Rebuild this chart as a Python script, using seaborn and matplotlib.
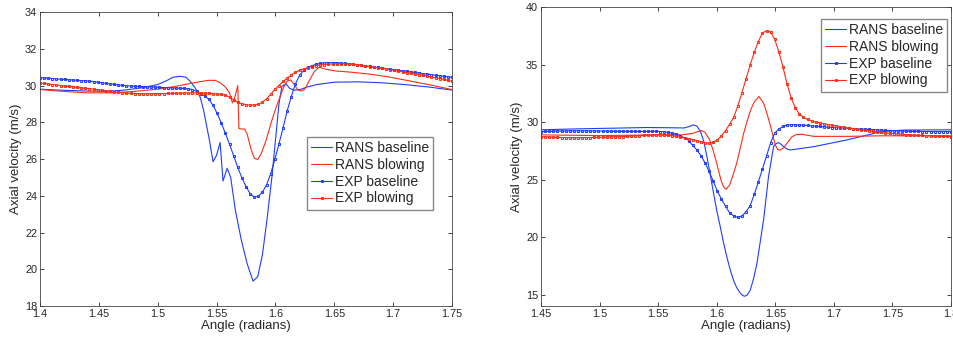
import numpy as np
import matplotlib
matplotlib.use('Agg')
import matplotlib.pyplot as plt
import seaborn as sns

# ---- left panel data ----
# EXP points, one every 0.0035 rad from 1.40 to 1.75
exp_left_angle = np.round(1.4 + 0.0035 * np.arange(101), 4)
exp_left_base = [30.43, 30.41, 30.40, 30.38, 30.36, 30.34, 30.33, 30.31, 30.30, 30.28,
                 30.27, 30.25, 30.24, 30.21, 30.18, 30.15, 30.12, 30.09, 30.06, 30.03,
                 30.01, 29.99, 29.97, 29.96, 29.95, 29.94, 29.93, 29.92, 29.91, 29.90,
                 29.89, 29.88, 29.87, 29.86, 29.85, 29.84, 29.82, 29.78, 29.68, 29.56,
                 29.42, 29.25, 28.92, 28.48, 27.96, 27.40, 26.80, 26.18, 25.55, 24.98,
                 24.50, 24.12, 23.93, 23.97, 24.20, 24.60, 25.20, 25.98, 26.82, 27.70,
                 28.62, 29.40, 30.10, 30.55, 30.82, 30.98, 31.08, 31.15, 31.20, 31.23,
                 31.25, 31.25, 31.24, 31.22, 31.20, 31.18, 31.16, 31.13, 31.10, 31.07,
                 31.04, 31.01, 30.98, 30.95, 30.92, 30.89, 30.86, 30.83, 30.80, 30.77,
                 30.74, 30.71, 30.68, 30.65, 30.62, 30.59, 30.56, 30.53, 30.50, 30.47,
                 30.45]
exp_left_blow = [30.14, 30.11, 30.08, 30.05, 30.03, 30.00, 29.97, 29.95, 29.92, 29.90,
                 29.87, 29.85, 29.83, 29.80, 29.77, 29.74, 29.71, 29.68, 29.65, 29.62,
                 29.60, 29.58, 29.57, 29.56, 29.55, 29.55, 29.55, 29.55, 29.55, 29.56,
                 29.56, 29.57, 29.57, 29.58, 29.58, 29.59, 29.60, 29.60, 29.60, 29.59,
                 29.58, 29.57, 29.55, 29.54, 29.52, 29.47, 29.36, 29.22, 29.08, 29.00,
                 28.96, 28.93, 28.93, 28.98, 29.10, 29.27, 29.52, 29.80, 30.00, 30.22,
                 30.40, 30.58, 30.72, 30.83, 30.90, 30.97, 31.03, 31.08, 31.12, 31.14,
                 31.16, 31.17, 31.18, 31.18, 31.18, 31.17, 31.15, 31.12, 31.09, 31.05,
                 31.02, 30.99, 30.96, 30.93, 30.90, 30.86, 30.82, 30.78, 30.74, 30.70,
                 30.66, 30.62, 30.59, 30.55, 30.51, 30.47, 30.42, 30.38, 30.33, 30.28,
                 30.22]

rans_left_base_angle = [1.400, 1.420, 1.440, 1.455, 1.470, 1.485, 1.500, 1.508, 1.513, 1.519,
                        1.524, 1.528, 1.532, 1.536, 1.539, 1.544, 1.547, 1.550, 1.553, 1.5555,
                        1.559, 1.562, 1.566, 1.571, 1.576, 1.581, 1.585, 1.589, 1.593, 1.597,
                        1.600, 1.603, 1.6055, 1.609, 1.612, 1.616, 1.621, 1.627, 1.635, 1.650,
                        1.670, 1.690, 1.710, 1.730, 1.750]
rans_left_base = [29.80, 29.74, 29.70, 29.68, 29.74, 29.86, 30.05, 30.28, 30.45, 30.50,
                  30.45, 30.20, 29.85, 29.38, 28.65, 27.00, 25.85, 26.20, 26.90, 24.80,
                  25.50, 25.00, 23.20, 21.60, 20.30, 19.35, 19.60, 20.80, 22.80, 25.00,
                  27.00, 29.00, 29.95, 30.10, 29.85, 29.75, 29.78, 29.92, 30.05, 30.18,
                  30.20, 30.15, 30.05, 29.92, 29.75]

rans_left_blow_angle = [1.400, 1.420, 1.440, 1.460, 1.480, 1.500, 1.515, 1.525, 1.535, 1.543,
                        1.549, 1.553, 1.557, 1.561, 1.5635, 1.5655, 1.568, 1.569, 1.574, 1.576,
                        1.579, 1.582, 1.585, 1.588, 1.592, 1.596, 1.600, 1.604, 1.607, 1.610,
                        1.613, 1.616, 1.619, 1.622, 1.625, 1.629, 1.633, 1.637, 1.642, 1.650,
                        1.665, 1.680, 1.695, 1.710, 1.730, 1.750]
rans_left_blow = [29.78, 29.68, 29.60, 29.60, 29.68, 29.80, 29.95, 30.08, 30.20, 30.28,
                  30.28, 30.15, 29.95, 29.60, 29.05, 29.35, 30.00, 27.65, 27.62, 27.35,
                  26.60, 26.05, 25.97, 26.30, 27.00, 27.90, 28.70, 29.40, 29.90, 30.25,
                  30.30, 30.05, 29.75, 29.70, 29.80, 30.30, 30.75, 31.00, 30.90, 30.80,
                  30.72, 30.62, 30.48, 30.30, 30.05, 29.78]

# ---- right panel data ----
exp_right_angle = np.round(1.45 + 0.0035 * np.arange(101), 4)
exp_right_base = [29.17, 29.18, 29.19, 29.20, 29.21, 29.22, 29.22, 29.23, 29.23, 29.23,
                  29.23, 29.23, 29.22, 29.22, 29.22, 29.21, 29.21, 29.20, 29.20, 29.19,
                  29.19, 29.18, 29.18, 29.18, 29.18, 29.18, 29.18, 29.18, 29.18, 29.17,
                  29.15, 29.10, 29.03, 28.94, 28.82, 28.62, 28.38, 27.96, 27.58, 27.08,
                  26.45, 25.70, 24.85, 24.00, 23.30, 22.68, 22.10, 21.83, 21.71, 21.82,
                  22.20, 22.72, 23.70, 24.78, 25.90, 27.05, 28.20, 29.05, 29.38, 29.62,
                  29.74, 29.77, 29.76, 29.74, 29.72, 29.70, 29.67, 29.64, 29.61, 29.58,
                  29.55, 29.52, 29.50, 29.48, 29.46, 29.45, 29.43, 29.41, 29.39, 29.37,
                  29.35, 29.33, 29.31, 29.29, 29.27, 29.25, 29.24, 29.22, 29.21, 29.20,
                  29.19, 29.18, 29.18, 29.17, 29.17, 29.17, 29.17, 29.17, 29.17, 29.17,
                  29.17]
exp_right_blow = [28.73, 28.72, 28.70, 28.68, 28.66, 28.65, 28.64, 28.63, 28.63, 28.63,
                  28.63, 28.64, 28.65, 28.66, 28.67, 28.68, 28.69, 28.70, 28.71, 28.72,
                  28.73, 28.75, 28.77, 28.79, 28.81, 28.83, 28.85, 28.87, 28.88, 28.88,
                  28.87, 28.84, 28.80, 28.74, 28.68, 28.62, 28.55, 28.47, 28.38, 28.28,
                  28.20, 28.16, 28.22, 28.45, 28.80, 29.25, 29.80, 30.42, 31.40, 32.55,
                  33.75, 34.95, 36.05, 37.00, 37.75, 37.94, 37.80, 37.20, 36.10, 34.80,
                  33.30, 32.10, 31.25, 30.70, 30.40, 30.22, 30.10, 30.00, 29.92, 29.85,
                  29.78, 29.72, 29.66, 29.60, 29.54, 29.48, 29.43, 29.38, 29.33, 29.28,
                  29.23, 29.18, 29.13, 29.09, 29.05, 29.02, 28.99, 28.96, 28.93, 28.91,
                  28.89, 28.87, 28.85, 28.83, 28.81, 28.79, 28.77, 28.76, 28.75, 28.74,
                  28.73]

rans_right_base_angle = [1.450, 1.480, 1.510, 1.540, 1.560, 1.572, 1.577, 1.580, 1.583, 1.586,
                         1.589, 1.5916, 1.5945, 1.5973, 1.600, 1.603, 1.6058, 1.6086, 1.6115, 1.6143,
                         1.617, 1.620, 1.622, 1.6237, 1.626, 1.6286, 1.6315, 1.6343, 1.637, 1.640,
                         1.6442, 1.6485, 1.651, 1.653, 1.655, 1.657, 1.660, 1.663, 1.683, 1.711,
                         1.730, 1.740, 1.760, 1.800]
rans_right_base = [29.32, 29.40, 29.46, 29.52, 29.50, 29.48, 29.62, 29.75, 29.65, 29.20,
                   28.30, 27.00, 25.40, 23.80, 22.30, 20.90, 19.50, 18.28, 17.15, 16.25,
                   15.60, 15.14, 14.92, 14.85, 14.95, 15.38, 16.40, 17.70, 19.50, 21.50,
                   25.25, 27.86, 28.15, 28.20, 28.05, 27.86, 27.65, 27.57, 27.86, 28.44,
                   28.90, 29.17, 29.30, 29.32]

rans_right_blow_angle = [1.450, 1.500, 1.550, 1.570, 1.580, 1.584, 1.587, 1.590, 1.594, 1.597,
                         1.600, 1.602, 1.604, 1.606, 1.608, 1.611, 1.614, 1.617, 1.620, 1.623,
                         1.626, 1.629, 1.632, 1.636, 1.640, 1.643, 1.646, 1.648, 1.650, 1.652,
                         1.654, 1.657, 1.660, 1.664, 1.668, 1.673, 1.683, 1.711, 1.740, 1.800]
rans_right_blow = [28.88, 28.82, 28.88, 28.88, 29.02, 29.18, 29.26, 29.10, 28.44, 27.50,
                   26.41, 25.60, 24.81, 24.35, 24.15, 24.52, 25.40, 26.41, 27.70, 29.02,
                   30.10, 31.06, 31.75, 32.22, 31.64, 30.70, 29.60, 28.80, 28.00, 27.62,
                   27.55, 27.75, 28.15, 28.70, 28.92, 28.92, 28.75, 28.75, 28.80, 28.80]

labels = ['RANS baseline', 'RANS blowing', 'EXP baseline', 'EXP blowing']
blue = '#1f3cff'
red = '#ff2b14'

sns.set_style('ticks')
plt.rcParams['font.family'] = ['Liberation Sans', 'DejaVu Sans']

fig = plt.figure(figsize=(9.54, 3.40), dpi=100)
ax1 = fig.add_axes([0.0419, 0.100, 0.4319, 0.8647])
ax2 = fig.add_axes([0.5671, 0.100, 0.4298, 0.8794])

panels = [
    (ax1, rans_left_base_angle, rans_left_base, rans_left_blow_angle, rans_left_blow,
     exp_left_angle, exp_left_base, exp_left_blow),
    (ax2, rans_right_base_angle, rans_right_base, rans_right_blow_angle, rans_right_blow,
     exp_right_angle, exp_right_base, exp_right_blow),
]

for ax, rbx, rby, rwx, rwy, ex, eb, ew in panels:
    sns.lineplot(x=rbx, y=rby, ax=ax, color=blue, lw=0.8, sort=False,
                 estimator=None, label=labels[0])
    sns.lineplot(x=rwx, y=rwy, ax=ax, color=red, lw=0.8, sort=False,
                 estimator=None, label=labels[1])
    sns.lineplot(x=ex, y=eb, ax=ax, color=blue, lw=0.8, sort=False, estimator=None,
                 marker='s', markersize=2.0, markerfacecolor='none',
                 markeredgecolor=blue, markeredgewidth=0.7, label=labels[2])
    sns.lineplot(x=ex, y=ew, ax=ax, color=red, lw=0.8, sort=False, estimator=None,
                 marker='s', markersize=2.0, markerfacecolor='none',
                 markeredgecolor=red, markeredgewidth=0.7, label=labels[3])
    ax.set_xlabel('Angle (radians)', fontsize=9.5, labelpad=1)
    ax.set_ylabel('Axial velocity (m/s)', fontsize=9.5, labelpad=2)
    ax.tick_params(direction='in', top=True, right=True, labelsize=7.8,
                   length=3, width=0.6, pad=2)
    for s in ax.spines.values():
        s.set_linewidth(0.6)
        s.set_color('#444444')

ax1.set_xlim(1.4, 1.75)
ax1.set_ylim(18, 34)
ax1.set_xticks(np.arange(1.4, 1.751, 0.05))
ax1.set_xticklabels(['1.4', '1.45', '1.5', '1.55', '1.6', '1.65', '1.7', '1.75'])
ax1.set_yticks(np.arange(18, 34.1, 2))

ax2.set_xlim(1.45, 1.8)
ax2.set_ylim(14, 40)
ax2.set_xticks(np.arange(1.45, 1.801, 0.05))
ax2.set_xticklabels(['1.45', '1.5', '1.55', '1.6', '1.65', '1.7', '1.75', '1.8'])
ax2.set_yticks(np.arange(15, 40.1, 5))

leg_kw = dict(fontsize=10, fancybox=False, framealpha=1, edgecolor='#888888',
              handlelength=1.5, handletextpad=0.2, labelspacing=0.2,
              borderpad=0.3, borderaxespad=0, loc='upper left')
ax1.legend(bbox_to_anchor=(0.648, 0.575), **leg_kw)
ax2.legend(bbox_to_anchor=(0.683, 0.96), **leg_kw)

fig.savefig('out.png', dpi=100)
